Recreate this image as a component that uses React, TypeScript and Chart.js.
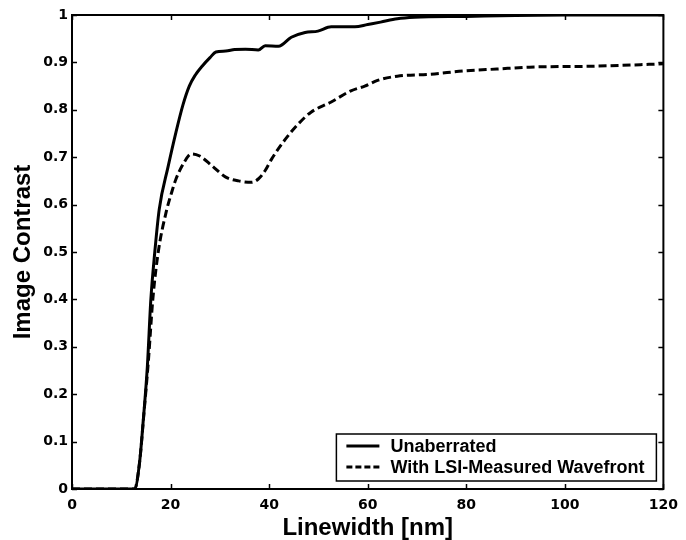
import React, { useEffect, useRef } from "react";
import { Chart, registerables } from "chart.js";

Chart.register(...registerables);

// Linewidth [nm] (x) and image contrast (y) for the unaberrated case
const linewidthSolid = [0, 12.7, 13.7, 14.5, 15.3, 16.0, 16.8, 17.7, 19.5, 21.1, 22.5, 23.8, 25.0, 26.4, 28.0, 29.2, 31.2, 33.0, 35.2, 37.8, 39.2, 41.9, 44.5, 47.3, 49.9, 52.6, 57.4, 60, 62.6, 66, 69.5, 80, 90, 100, 120];
const contrastSolid = [0, 0, 0.055, 0.15, 0.26, 0.4, 0.5, 0.59, 0.68, 0.753, 0.81, 0.85, 0.873, 0.892, 0.91, 0.922, 0.924, 0.927, 0.928, 0.926, 0.935, 0.934, 0.953, 0.963, 0.966, 0.975, 0.975, 0.98, 0.985, 0.992, 0.995, 0.997, 0.999, 1.0, 1.0];

// With LSI-measured wavefront
const linewidthDashed = [0, 12.7, 13.7, 14.6, 15.5, 16.4, 17.5, 19.1, 20.2, 21.1, 22.8, 24.2, 25.8, 28.4, 31.2, 33.8, 36.4, 37.8, 39.2, 40.5, 43.3, 45.9, 48.5, 52.5, 56.6, 59.4, 62, 66, 72.7, 79.5, 86.2, 92.8, 106, 120];
const contrastDashed = [0, 0, 0.055, 0.16, 0.27, 0.4, 0.5, 0.584, 0.625, 0.654, 0.69, 0.707, 0.703, 0.682, 0.658, 0.65, 0.647, 0.654, 0.672, 0.696, 0.738, 0.77, 0.795, 0.816, 0.84, 0.85, 0.862, 0.871, 0.875, 0.882, 0.886, 0.89, 0.892, 0.897];

const xTickLabels = ["0", "20", "40", "60", "80", "100", "120"];
const yTickLabels = ["0", "0.1", "0.2", "0.3", "0.4", "0.5", "0.6", "0.7", "0.8", "0.9", "1"];
const seriesNames = ["Unaberrated", "With LSI-Measured Wavefront"];
const xTitle = "Linewidth [nm]";
const yTitle = "Image Contrast";

const plotDash = [8, 4];
const legendDash = [6, 3];

const framePlugin = {
  id: "frameAndLegend",
  afterDatasetsDraw(chart: any) {
    const { ctx, chartArea: a, scales } = chart;
    const xs = scales.x;
    const ys = scales.y;
    ctx.save();
    ctx.strokeStyle = "#000";
    ctx.setLineDash([]);
    ctx.lineWidth = 2;
    ctx.strokeRect(a.left, a.top, a.right - a.left, a.bottom - a.top);
    ctx.lineWidth = 1.5;
    const L = 5;
    const seg = (x1: number, y1: number, x2: number, y2: number) => {
      ctx.beginPath();
      ctx.moveTo(x1, y1);
      ctx.lineTo(x2, y2);
      ctx.stroke();
    };
    xs.ticks.forEach((t: any) => {
      const px = Math.round(xs.getPixelForValue(t.value)) + 0.5;
      seg(px, a.bottom, px, a.bottom - L);
      seg(px, a.top, px, a.top + L);
    });
    ys.ticks.forEach((t: any) => {
      const py = Math.round(ys.getPixelForValue(t.value)) + 0.5;
      seg(a.left, py, a.left + L, py);
      seg(a.right, py, a.right - L, py);
    });

    // legend box inside lower right
    const bw = 320;
    const bh = 47;
    const bx = a.right - 7 - bw;
    const by = a.bottom - 8 - bh;
    ctx.fillStyle = "#fff";
    ctx.fillRect(bx, by, bw, bh);
    ctx.lineWidth = 1.5;
    ctx.strokeRect(bx, by, bw, bh);
    const rows = [by + 12, by + 33];
    const dashes = [[], legendDash];
    ctx.font = "bold 18px 'Liberation Sans', Arial, sans-serif";
    ctx.textBaseline = "middle";
    ctx.textAlign = "left";
    seriesNames.forEach((name, i) => {
      ctx.lineWidth = 3;
      ctx.setLineDash(dashes[i]);
      seg(bx + 10, rows[i], bx + 43, rows[i]);
      ctx.setLineDash([]);
      ctx.fillStyle = "#000";
      ctx.fillText(name, bx + 54, rows[i] + 1);
    });
    ctx.restore();
  },
};

export default function App() {
  const ref = useRef<HTMLCanvasElement | null>(null);
  useEffect(() => {
    if (!ref.current) return;
    const tickFont = { family: "'DejaVu Sans', sans-serif", size: 14, weight: "bold" as const };
    const titleFont = { family: "'Liberation Sans', Arial, sans-serif", size: 24, weight: "bold" as const, lineHeight: 1 };
    const chart = new Chart(ref.current, {
      type: "line",
      data: {
        datasets: [
          {
            label: seriesNames[0],
            data: linewidthSolid.map((x, i) => ({ x, y: contrastSolid[i] })),
            borderColor: "#000",
            borderWidth: 3,
            pointRadius: 0,
            cubicInterpolationMode: "monotone",
            fill: false,
          },
          {
            label: seriesNames[1],
            data: linewidthDashed.map((x, i) => ({ x, y: contrastDashed[i] })),
            borderColor: "#000",
            borderWidth: 3,
            borderDash: plotDash,
            pointRadius: 0,
            cubicInterpolationMode: "monotone",
            fill: false,
          },
        ],
      },
      options: {
        animation: false,
        responsive: false,
        layout: { padding: { top: 15, right: 17, left: 0, bottom: 0 } },
        plugins: { legend: { display: false }, tooltip: { enabled: false } },
        scales: {
          x: {
            type: "linear",
            min: 0,
            max: 120,
            grid: { display: false, drawTicks: false, tickLength: 0 },
            border: { display: false },
            ticks: {
              stepSize: 20,
              padding: 8,
              color: "#000",
              font: tickFont,
              maxRotation: 0,
              callback: (_v: any, i: number) => xTickLabels[i],
            },
            title: { display: true, text: xTitle, color: "#000", font: titleFont, padding: 0 },
            afterFit: (s: any) => {
              s.height = 51;
            },
          },
          y: {
            type: "linear",
            min: 0,
            max: 1,
            grid: { display: false, drawTicks: false, tickLength: 0 },
            border: { display: false },
            ticks: {
              stepSize: 0.1,
              padding: 4,
              color: "#000",
              font: tickFont,
              callback: (_v: any, i: number) => yTickLabels[i],
            },
            title: { display: true, text: yTitle, color: "#000", font: titleFont, padding: 11 },
            afterFit: (s: any) => {
              s.width = 72;
            },
          },
        },
      },
      plugins: [framePlugin],
    });
    return () => chart.destroy();
  }, []);
  return (
    <div style={{ position: "fixed", left: 0, top: 0, width: 686, height: 540, background: "#fff" }}>
      <canvas ref={ref} width={686} height={540} style={{ display: "block" }} />
    </div>
  );
}
